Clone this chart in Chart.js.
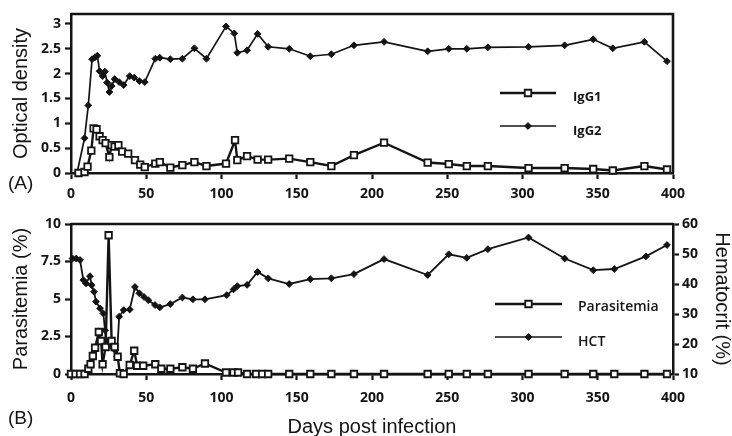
<!DOCTYPE html>
<html>
<head>
<meta charset="utf-8">
<title>Antibody response, parasitemia and hematocrit</title>
<script src="https://cdn.jsdelivr.net/npm/chart.js@4.4.1/dist/chart.umd.min.js"></script>
<style>
  html, body { margin: 0; padding: 0; background: #fff; }
  #wrap { position: relative; width: 732px; height: 436px; overflow: hidden; background: #fff; }
  #wrap canvas { position: absolute; left: 0; top: 0; }
  .panel-tag { position: absolute; font: 19px "Liberation Sans", Arial, sans-serif; color: #151515; line-height: 22px; }
</style>
</head>
<body>
<div id="wrap">
  <canvas id="chartA" width="732" height="436" style="width:732px;height:436px"></canvas>
  <canvas id="chartB" width="732" height="436" style="width:732px;height:436px"></canvas>
  <div class="panel-tag" style="left:8px;top:172px">(A)</div>
  <div class="panel-tag" style="left:8px;top:407px">(B)</div>
</div>
<script>
// --- data ---

// Panel A: ELISA optical density
const IGG1_DAYS = [5, 9, 11, 13.5, 15, 17, 19, 21, 23, 25.5, 27, 29, 31.5, 34, 38, 42.5, 46, 49, 56, 59,
    66, 74, 82, 90, 103, 109, 110.5, 117, 124, 131, 145, 159, 173, 188, 208, 237, 251, 263, 277, 304,
    328, 347, 360, 381, 396];
const IGG1_OD = [0, 0.02, 0.13, 0.45, 0.9, 0.88, 0.74, 0.66, 0.6, 0.32, 0.56, 0.53, 0.56, 0.43, 0.39, 0.26, 0.17, 0.12, 0.19, 0.22,
    0.11, 0.16, 0.22, 0.14, 0.19, 0.66, 0.26, 0.34, 0.27, 0.27, 0.29, 0.22, 0.14, 0.36, 0.61, 0.21, 0.18, 0.14, 0.14, 0.1,
    0.1, 0.08, 0.05, 0.14, 0.07];

const IGG2_DAYS = [4, 9, 11.5, 14, 16, 17.5, 19, 21, 22.5, 24, 25.5, 27, 29, 32, 35, 39, 42, 45.5, 49, 56,
    59, 66, 74, 82, 90, 103, 108.5, 110.5, 117, 124, 131, 145, 159, 173, 188, 208, 237, 251, 263, 277,
    304, 328, 347, 360, 381, 396];
const IGG2_OD = [0, 0.7, 1.36, 2.29, 2.33, 2.36, 2.05, 1.95, 2.04, 1.82, 1.63, 1.75, 1.89, 1.83, 1.77, 1.95, 1.92, 1.85, 1.83, 2.3,
    2.32, 2.29, 2.3, 2.51, 2.3, 2.95, 2.81, 2.42, 2.47, 2.8, 2.54, 2.5, 2.35, 2.39, 2.57, 2.64, 2.45, 2.5, 2.5, 2.53,
    2.54, 2.57, 2.69, 2.51, 2.64, 2.25];

// Panel B: parasitemia (%) and hematocrit (%)
const PARA_DAYS = [0, 3, 6, 9, 11.5, 13, 14.5, 16, 18.5, 20, 21, 23, 25, 27, 29, 31, 32.5, 35, 39, 42,
    44, 48, 56, 60, 66, 74, 81, 89, 103, 108, 111, 117, 123, 127, 131, 145, 159, 173, 188, 208,
    237, 251, 263, 277, 304, 328, 347, 361, 381, 396];
const PARA_PCT = [0, 0, 0, 0, 0.35, 0.65, 1.2, 1.75, 2.8, 2.2, 0.65, 1.8, 9.25, 2.2, 1.8, 1.15, 0.05, 0, 0.6, 1.55,
    0.55, 0.55, 0.65, 0.35, 0.35, 0.45, 0.35, 0.7, 0.1, 0.1, 0.1, 0, 0, 0, 0, 0, 0, 0, 0, 0,
    0, 0, 0, 0, 0, 0, 0, 0, 0, 0];

const HCT_DAYS = [1, 3.5, 6, 8.2, 10, 12.6, 13.7, 15.3, 16.6, 19.3, 21.5, 22.6, 23.3, 25, 27, 29.2, 30.5, 32, 35, 39,
    42.5, 45.4, 48.5, 51.4, 55.8, 59, 66, 74, 81, 89, 103.5, 108, 110.5, 117, 124, 131, 145, 159, 173, 188,
    208, 237, 251, 263, 277, 304, 328, 347, 361, 382, 396];
const HCT_PCT = [48.5, 48.5, 48, 41.3, 40.2, 42.6, 39.6, 37.4, 34.1, 31.9, 30.2, 24.6, 21.3, 20, 19.1, 18, 15.8, 29.1, 31.3, 31.5,
    39, 36.9, 35.7, 34.6, 33, 32.2, 33.3, 35.5, 34.9, 34.9, 36.3, 38.2, 39.3, 39.7, 44, 41.9, 40, 41.6, 41.9, 43.3,
    48.3, 43, 49.9, 48.7, 51.6, 55.5, 48.5, 44.6, 45, 49.2, 53];

// tick labels
const X_TICKS = [0, 50, 100, 150, 200, 250, 300, 350, 400];
const OD_TICKS = [0, 0.5, 1, 1.5, 2, 2.5, 3];
const PARA_TICKS = [0, 2.5, 5, 7.5, 10];
const HCT_TICKS = [10, 20, 30, 40, 50, 60];

const INK = '#141414';
const TICK_FONT = { family: '"Open Sans", "DejaVu Sans", sans-serif', size: 14, weight: '700' };
const TITLE_FAMILY = '"Liberation Sans", Arial, sans-serif';

function toPoints(xs, ys) {
    return xs.map((x, i) => ({ x: x, y: ys[i] }));
}

function fixedTicks(values) {
    return function (scale) {
        scale.ticks = values.map(v => ({ value: v }));
    };
}

// box line along the top (and right) of the plot area
const framePlugin = {
    id: 'frame',
    afterDraw(chart, args, opts) {
        const { ctx, chartArea } = chart;
        ctx.save();
        ctx.strokeStyle = INK;
        ctx.lineWidth = opts.width || 2.5;
        ctx.beginPath();
        ctx.moveTo(chartArea.left, chartArea.top);
        ctx.lineTo(chartArea.right, chartArea.top);
        if (opts.right) ctx.lineTo(chartArea.right, chartArea.bottom);
        ctx.stroke();
        ctx.restore();
    }
};

// legend drawn inside the plot area, as in the figure
const insideLegendPlugin = {
    id: 'insideLegend',
    afterDraw(chart, args, opts) {
        if (!opts.items) return;
        const ctx = chart.ctx;
        ctx.save();
        opts.items.forEach(item => {
            const ds = chart.data.datasets[item.index];
            ctx.strokeStyle = ds.borderColor;
            ctx.lineWidth = item.lineWidth;
            ctx.beginPath();
            ctx.moveTo(opts.x0, item.y);
            ctx.lineTo(opts.x1, item.y);
            ctx.stroke();

            ctx.fillStyle = ds.pointBackgroundColor;
            ctx.strokeStyle = ds.pointBorderColor;
            ctx.lineWidth = ds.pointBorderWidth;
            Chart.helpers.drawPoint(ctx, {
                pointStyle: ds.pointStyle,
                radius: ds.pointRadius,
                rotation: 0,
                borderWidth: ds.pointBorderWidth
            }, (opts.x0 + opts.x1) / 2, item.y);

            ctx.fillStyle = INK;
            ctx.font = opts.font;
            ctx.textAlign = 'left';
            ctx.textBaseline = 'middle';
            ctx.fillText(ds.label, opts.textX, item.textY);
        });
        ctx.restore();
    }
};

function axisStyle() {
    return {
        grid: { display: true, drawOnChartArea: false, drawTicks: true, tickLength: 6, tickWidth: 2.2, tickColor: INK },
        border: { display: true, color: INK, width: 2.5 }
    };
}

document.addEventListener('DOMContentLoaded', function () {

    Chart.defaults.font.family = TICK_FONT.family;
    Chart.defaults.color = INK;

    // --- 1. Panel A: IgG1 / IgG2 ---
    const ctxAEl = document.getElementById('chartA');
    new Chart(ctxAEl.getContext('2d'), {
        type: 'line',
        data: {
            datasets: [{
                label: 'IgG1',
                data: toPoints(IGG1_DAYS, IGG1_OD),
                borderColor: INK,
                borderWidth: 2.4,
                pointStyle: 'rect',
                pointRadius: 4.6,
                pointBackgroundColor: '#fff',
                pointBorderColor: INK,
                pointBorderWidth: 1.8,
                tension: 0,
                clip: false
            }, {
                label: 'IgG2',
                data: toPoints(IGG2_DAYS, IGG2_OD),
                borderColor: INK,
                borderWidth: 1.7,
                pointStyle: 'rectRot',
                pointRadius: 3.4,
                pointBackgroundColor: INK,
                pointBorderColor: INK,
                pointBorderWidth: 1,
                tension: 0,
                clip: false
            }]
        },
        options: {
            responsive: false,
            animation: false,
            events: [],
            layout: { padding: { top: 14, right: 59, bottom: 233, left: 0 } },
            plugins: {
                legend: { display: false },
                tooltip: { enabled: false },
                frame: { right: true, width: 2.6 },
                insideLegend: {
                    x0: 500, x1: 556, textX: 573,
                    font: '700 13px "Open Sans", sans-serif',
                    items: [
                        { index: 0, y: 93, textY: 97, lineWidth: 2.6 },
                        { index: 1, y: 126, textY: 131, lineWidth: 1.6 }
                    ]
                }
            },
            scales: {
                x: {
                    type: 'linear',
                    min: 0,
                    max: 400,
                    afterBuildTicks: fixedTicks(X_TICKS),
                    afterFit: s => { s.height = 30; },
                    ticks: { font: TICK_FONT, color: INK, padding: 7, maxRotation: 0 },
                    ...axisStyle()
                },
                y: {
                    type: 'linear',
                    min: 0,
                    max: 3.2,
                    afterBuildTicks: fixedTicks(OD_TICKS),
                    afterFit: s => { s.width = 71; },
                    ticks: { font: TICK_FONT, color: INK, padding: 4, callback: v => String(v) },
                    title: {
                        display: true,
                        text: 'Optical density',
                        color: INK,
                        font: { family: TITLE_FAMILY, size: 20 },
                        padding: { top: 9, bottom: 0 }
                    },
                    ...axisStyle()
                }
            }
        },
        plugins: [framePlugin, insideLegendPlugin]
    });

    // --- 2. Panel B: Parasitemia / HCT ---
    const ctxBEl = document.getElementById('chartB');
    new Chart(ctxBEl.getContext('2d'), {
        type: 'line',
        data: {
            datasets: [{
                label: 'Parasitemia',
                data: toPoints(PARA_DAYS, PARA_PCT),
                yAxisID: 'y',
                borderColor: INK,
                borderWidth: 2.4,
                pointStyle: 'rect',
                pointRadius: 4.6,
                pointBackgroundColor: '#fff',
                pointBorderColor: INK,
                pointBorderWidth: 1.8,
                tension: 0,
                clip: false
            }, {
                label: 'HCT',
                data: toPoints(HCT_DAYS, HCT_PCT),
                yAxisID: 'y2',
                borderColor: INK,
                borderWidth: 1.8,
                pointStyle: 'rectRot',
                pointRadius: 3.4,
                pointBackgroundColor: INK,
                pointBorderColor: INK,
                pointBorderWidth: 1,
                tension: 0,
                clip: false
            }]
        },
        options: {
            responsive: false,
            animation: false,
            events: [],
            layout: { padding: { top: 224, right: 0, bottom: 0, left: 0 } },
            plugins: {
                legend: { display: false },
                tooltip: { enabled: false },
                frame: { right: false, width: 2.6 },
                insideLegend: {
                    x0: 495, x1: 562, textX: 578,
                    font: '600 14px "Open Sans", sans-serif',
                    items: [
                        { index: 0, y: 304, textY: 307, lineWidth: 2.6 },
                        { index: 1, y: 337, textY: 342, lineWidth: 1.6 }
                    ]
                }
            },
            scales: {
                x: {
                    type: 'linear',
                    min: 0,
                    max: 400,
                    afterBuildTicks: fixedTicks(X_TICKS),
                    afterFit: s => { s.height = 62; },
                    ticks: { font: TICK_FONT, color: INK, padding: 10, maxRotation: 0 },
                    title: {
                        display: true,
                        text: 'Days post infection',
                        color: INK,
                        font: { family: TITLE_FAMILY, size: 20, lineHeight: 0.9 },
                        padding: 0
                    },
                    ...axisStyle()
                },
                y: {
                    type: 'linear',
                    position: 'left',
                    min: 0,
                    max: 10,
                    afterBuildTicks: fixedTicks(PARA_TICKS),
                    afterFit: s => { s.width = 71; },
                    ticks: { font: TICK_FONT, color: INK, padding: 4, callback: v => String(v) },
                    title: {
                        display: true,
                        text: 'Parasitemia (%)',
                        color: INK,
                        font: { family: TITLE_FAMILY, size: 20 },
                        padding: { top: 9, bottom: 0 }
                    },
                    ...axisStyle()
                },
                y2: {
                    type: 'linear',
                    position: 'right',
                    min: 10,
                    max: 60,
                    afterBuildTicks: fixedTicks(HCT_TICKS),
                    afterFit: s => { s.width = 59; },
                    ticks: { font: TICK_FONT, color: INK, padding: 3, callback: v => String(v) },
                    title: {
                        display: true,
                        text: 'Hematocrit (%)',
                        color: INK,
                        font: { family: TITLE_FAMILY, size: 20, lineHeight: 1 },
                        padding: 0
                    },
                    ...axisStyle()
                }
            }
        },
        plugins: [framePlugin, insideLegendPlugin]
    });

});
</script>
</body>
</html>
